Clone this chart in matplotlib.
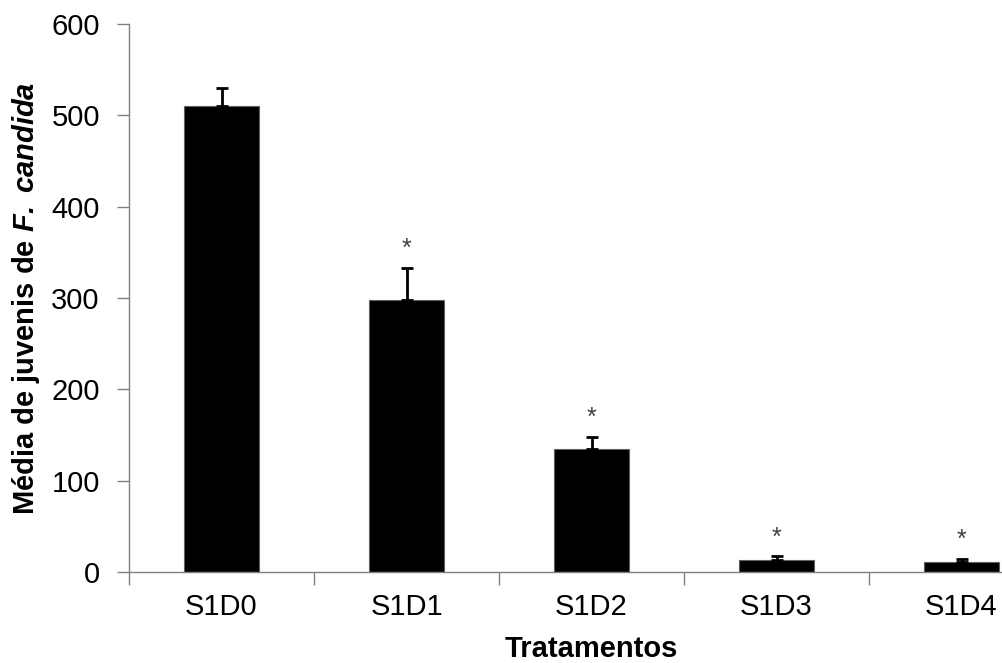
import numpy as np
import matplotlib.pyplot as plt

# mean number of juveniles per treatment, with error bars
treatments = ['S1D0', 'S1D1', 'S1D2', 'S1D3', 'S1D4']
means = [510, 298, 135, 13, 11]
errors = [20, 35, 13, 4, 3]
signif = ['', '*', '*', '*', '*']

plt.rcParams['font.family'] = ['Liberation Sans', 'DejaVu Sans']
plt.rcParams['mathtext.fontset'] = 'custom'
plt.rcParams['mathtext.bfit'] = 'Liberation Sans:italic:bold'
plt.rcParams['mathtext.it'] = 'Liberation Sans:italic'
plt.rcParams['mathtext.rm'] = 'Liberation Sans'

fig = plt.figure(figsize=(10.02, 6.63), dpi=100)
# axes runs past the right edge, as in the cropped original
ax = fig.add_axes([129/1002, 91/663, 925/1002, 548/663])

x = np.arange(len(treatments))
ax.bar(x, means, width=0.405, color='black', edgecolor='#606060', linewidth=0.8, zorder=2)
ax.errorbar(x, means, yerr=[np.zeros(len(errors)), errors], fmt='none', ecolor='black',
            elinewidth=2, capsize=4, capthick=2, zorder=3)

# significance marks above the error bars
for xi, m, e, s in zip(x, means, errors, signif):
    if s:
        ax.annotate(s, (xi, m + e), xytext=(0, 5), textcoords='offset points',
                    ha='center', va='bottom', fontsize=18, color='#404040')

ax.set_xlim(-0.5, 4.5)
ax.set_ylim(0, 600)
ax.set_yticks(np.arange(0, 601, 100))
ax.tick_params(axis='y', direction='out', length=9, width=1, color='#808080',
               labelsize=21, pad=12)

ax.set_xticks(x)
ax.set_xticklabels(treatments)
ax.set_xticks(np.arange(-0.5, 5, 1), minor=True)
ax.tick_params(axis='x', which='major', length=0, labelsize=21, pad=15)
ax.tick_params(axis='x', which='minor', direction='out', length=9, width=1, color='#808080')

for side in ['top', 'right']:
    ax.spines[side].set_visible(False)
for side in ['left', 'bottom']:
    ax.spines[side].set_color('#808080')
    ax.spines[side].set_linewidth(1)

ax.set_ylabel(r'Média de juvenis de $\mathbfit{F.}$ $\mathbfit{candida}$', fontsize=21,
              fontweight='bold', labelpad=6.5)
ax.set_xlabel('Tratamentos', fontsize=21, fontweight='bold', labelpad=10)

fig.savefig('out.png', dpi=100)
